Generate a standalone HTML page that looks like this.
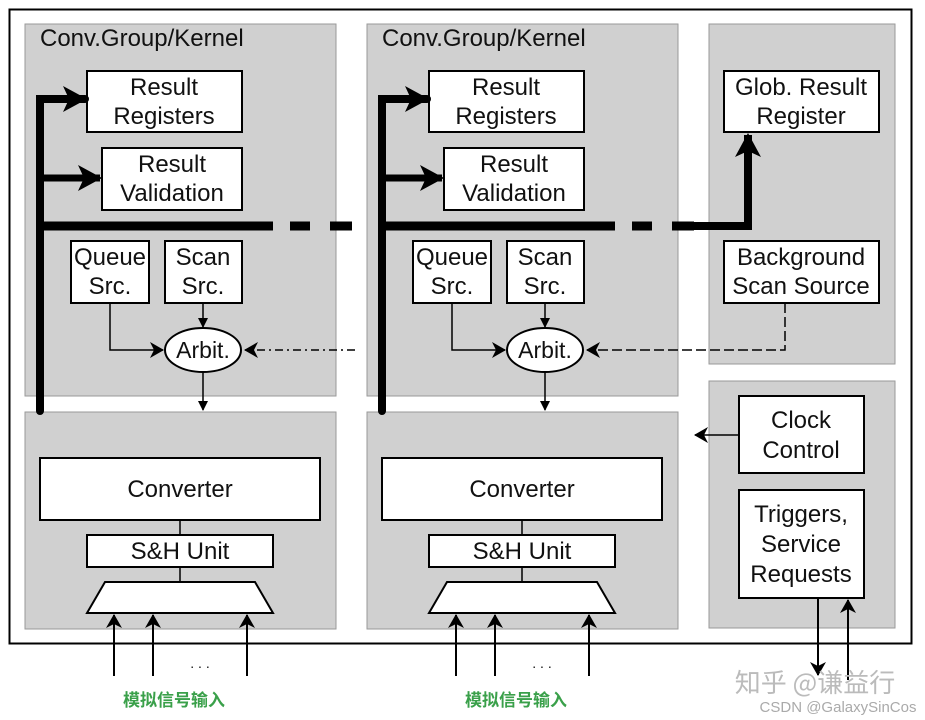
<!DOCTYPE html>
<html><head><style>body{margin:0;background:#fff}svg{display:block}text{font-family:"Liberation Sans",sans-serif;fill:#111}</style></head><body>
<svg width="925" height="720" viewBox="0 0 925 720">
<defs>
<marker id="a" markerWidth="10" markerHeight="10" refX="9" refY="5" orient="auto" markerUnits="userSpaceOnUse"><path d="M0,0 L10,5 L0,10 Z" fill="#000"/></marker>
<marker id="b" markerWidth="14" markerHeight="16" refX="13" refY="8" orient="auto" markerUnits="userSpaceOnUse"><path d="M0,0 L14,8 L0,16 L4,8 Z" fill="#000"/></marker>
<marker id="c" markerWidth="24" markerHeight="26" refX="22" refY="13" orient="auto" markerUnits="userSpaceOnUse"><path d="M0,0 L24,13 L0,26 L6,13 Z" fill="#000"/></marker>
</defs>
<rect x="9.5" y="9.5" width="902" height="634" fill="#fff" stroke="#000" stroke-width="2"/>
<g id="p1">
<rect x="25" y="24" width="311" height="372" fill="#d0d0d0" stroke="#999"/>
<rect x="25" y="412" width="311" height="217" fill="#d0d0d0" stroke="#999"/>
<text x="40" y="46" font-size="24">Conv.Group/Kernel</text>
<rect x="87" y="71" width="155" height="61" fill="#fff" stroke="#000" stroke-width="2"/>
<text x="164" y="95" font-size="24" text-anchor="middle">Result</text><text x="164" y="124" font-size="24" text-anchor="middle">Registers</text>
<rect x="102" y="148" width="140" height="62" fill="#fff" stroke="#000" stroke-width="2"/>
<text x="172" y="172" font-size="24" text-anchor="middle">Result</text><text x="172" y="201" font-size="24" text-anchor="middle">Validation</text>
<path d="M40,411 V99 H85" fill="none" stroke="#000" stroke-width="8" marker-end="url(#c)" stroke-linecap="round"/>
<path d="M40,178 H100" fill="none" stroke="#000" stroke-width="7" marker-end="url(#c)"/>
<path d="M40,226 H273" stroke="#000" stroke-width="9"/>
<path d="M290,226 H310 M330,226 H352" stroke="#000" stroke-width="9"/>
<rect x="71" y="241" width="78" height="62" fill="#fff" stroke="#000" stroke-width="2"/>
<text x="110" y="265" font-size="24" text-anchor="middle">Queue</text><text x="110" y="294" font-size="24" text-anchor="middle">Src.</text>
<rect x="165" y="241" width="77" height="62" fill="#fff" stroke="#000" stroke-width="2"/>
<text x="203" y="265" font-size="24" text-anchor="middle">Scan</text><text x="203" y="294" font-size="24" text-anchor="middle">Src.</text>
<ellipse cx="203" cy="350" rx="38" ry="22" fill="#fff" stroke="#000" stroke-width="2"/>
<text x="203" y="358" font-size="23" text-anchor="middle">Arbit.</text>
<path d="M110,303 V350 H163" fill="none" stroke="#000" stroke-width="1.5" marker-end="url(#b)"/>
<path d="M203,303 V327" fill="none" stroke="#000" stroke-width="1.5" marker-end="url(#a)"/>
<path d="M203,372 V410" fill="none" stroke="#000" stroke-width="1.5" marker-end="url(#a)"/>
<rect x="40" y="458" width="280" height="62" fill="#fff" stroke="#000" stroke-width="2"/>
<text x="180" y="497" font-size="24" text-anchor="middle">Converter</text>
<rect x="87" y="535" width="186" height="32" fill="#fff" stroke="#000" stroke-width="2"/>
<text x="180" y="559" font-size="24" text-anchor="middle">S&amp;H Unit</text>
<path d="M180,520 V535 M180,567 V582" stroke="#000" stroke-width="1.5"/>
<path d="M105,582 H255 L273,613 H87 Z" fill="#fff" stroke="#000" stroke-width="2"/>
<path d="M114,676 V615" fill="none" stroke="#000" stroke-width="2" marker-end="url(#b)"/>
<path d="M153,676 V615" fill="none" stroke="#000" stroke-width="2" marker-end="url(#b)"/>
<path d="M247,676 V615" fill="none" stroke="#000" stroke-width="2" marker-end="url(#b)"/>
<text x="200" y="668" font-size="14" text-anchor="middle">. . .</text>
<text x="174" y="706" font-size="17" font-weight="bold" text-anchor="middle" style="fill:#3aa04a;font-family:'Noto Sans CJK SC',sans-serif">模拟信号输入</text>
</g>
<use href="#p1" x="342"/>
<path d="M355,350 H245" fill="none" stroke="#000" stroke-width="1.5" stroke-dasharray="8,4,2,4" marker-end="url(#b)"/>
<rect x="709" y="24" width="186" height="340" fill="#d0d0d0" stroke="#999"/>
<rect x="709" y="381" width="186" height="247" fill="#d0d0d0" stroke="#999"/>
<path d="M692,226 H748 V135" fill="none" stroke="#000" stroke-width="8" marker-end="url(#c)"/>
<rect x="724" y="71" width="155" height="61" fill="#fff" stroke="#000" stroke-width="2"/>
<text x="801" y="95" font-size="24" text-anchor="middle">Glob. Result</text><text x="801" y="124" font-size="24" text-anchor="middle">Register</text>
<rect x="724" y="241" width="155" height="62" fill="#fff" stroke="#000" stroke-width="2"/>
<text x="801" y="265" font-size="24" text-anchor="middle">Background</text><text x="801" y="294" font-size="24" text-anchor="middle">Scan Source</text>
<path d="M785,303 V350 H587" fill="none" stroke="#000" stroke-width="1.5" stroke-dasharray="10,4" marker-end="url(#b)"/>
<rect x="739" y="396" width="125" height="77" fill="#fff" stroke="#000" stroke-width="2"/>
<text x="801" y="428" font-size="24" text-anchor="middle">Clock</text><text x="801" y="458" font-size="24" text-anchor="middle">Control</text>
<path d="M739,435 H695" fill="none" stroke="#000" stroke-width="1.5" marker-end="url(#b)"/>
<rect x="739" y="490" width="125" height="108" fill="#fff" stroke="#000" stroke-width="2"/>
<text x="801" y="522" font-size="24" text-anchor="middle">Triggers,</text><text x="801" y="552" font-size="24" text-anchor="middle">Service</text><text x="801" y="582" font-size="24" text-anchor="middle">Requests</text>
<path d="M818,598 V675" fill="none" stroke="#000" stroke-width="2" marker-end="url(#b)"/>
<path d="M848,680 V600" fill="none" stroke="#000" stroke-width="2" marker-end="url(#b)"/>
<text x="815" y="692" font-size="26" text-anchor="middle" style="fill:#bbb;font-family:'Noto Sans CJK SC',sans-serif">知乎 @谦益行</text>
<text x="838" y="712" font-size="15" text-anchor="middle" style="fill:#aaa">CSDN @GalaxySinCos</text>
</svg>
</body></html>
